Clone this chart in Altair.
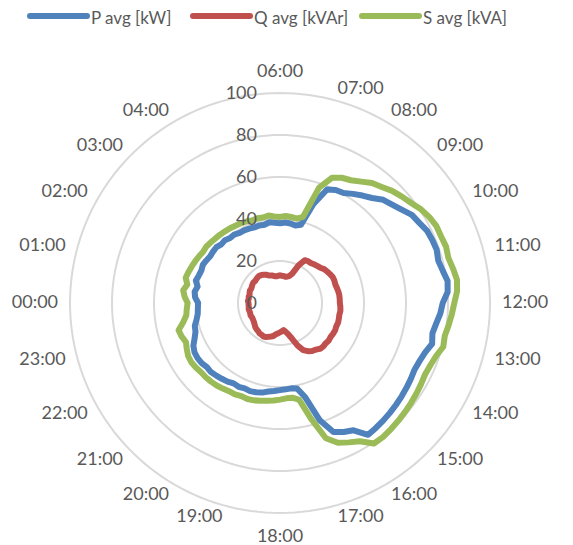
import altair as alt
import pandas as pd

# ---------------- data ----------------
hours = [f"{h:02d}:00" for h in range(24)]
hidden_hours = ["05:00"]          # label not shown in the original (overlaps "100")
series_names = ["P avg [kW]", "Q avg [kVAr]", "S avg [kVA]"]
ring_ticks = [0, 20, 40, 60, 80, 100]

# 15-minute readings starting at 00:00
p_avg = [
    39.0, 40.5, 41.0, 40.0, 41.5, 40.8, 40.5, 41.0,
    40.5, 40.0, 40.2, 40.3, 39.5, 39.8, 39.0, 39.2,
    38.5, 38.6, 38.3, 38.0, 38.2, 38.0, 38.8, 38.3,
    38.0, 38.4, 38.2, 37.6, 38.6, 50.0, 58.5, 60.0,
    60.5, 62.5, 64.5, 66.5, 69.5, 71.0, 73.0, 75.5,
    76.5, 78.0, 78.5, 78.8, 78.0, 79.0, 80.5, 80.0,
    77.5, 76.5, 75.0, 74.0, 75.0, 73.0, 72.0, 71.5,
    72.0, 72.5, 73.0, 73.5, 74.0, 74.5, 75.0, 75.5,
    70.0, 68.5, 66.5, 59.0, 46.5, 41.5, 41.0, 41.2,
    41.5, 42.0, 42.5, 43.5, 44.0, 44.3, 44.0, 44.5,
    44.2, 45.0, 45.5, 46.0, 46.5, 46.3, 47.0, 47.2,
    47.0, 46.0, 44.0, 42.5, 42.0, 40.5, 39.5, 39.2,
]
q_avg = [
    15.0, 15.3, 15.0, 15.2, 15.0, 15.3, 15.5, 15.3,
    15.5, 15.8, 16.0, 15.8, 16.0, 16.2, 16.3, 16.0,
    15.5, 15.0, 14.2, 13.8, 13.5, 13.0, 12.8, 13.0,
    13.2, 13.0, 13.0, 12.8, 13.0, 13.5, 15.0, 20.0,
    23.5, 24.0, 24.0, 24.5, 25.0, 25.5, 26.5, 27.0,
    27.5, 28.0, 28.0, 27.8, 28.0, 28.3, 28.5, 28.5,
    28.5, 28.8, 29.0, 28.8, 29.0, 29.2, 29.0, 29.3,
    29.2, 29.0, 29.3, 29.0, 29.2, 29.0, 28.0, 27.5,
    26.5, 25.0, 22.0, 18.0, 15.5, 14.0, 13.0, 13.5,
    14.0, 14.5, 15.0, 16.0, 16.5, 17.0, 17.5, 17.8,
    17.5, 17.5, 17.0, 16.8, 16.5, 16.0, 15.5, 15.2,
    15.0, 15.0, 15.2, 15.0, 15.0, 15.2, 15.0, 15.0,
]
s_avg = [
    44.0, 45.5, 46.5, 45.0, 46.5, 46.0, 45.5, 45.0,
    44.5, 44.0, 44.2, 43.8, 43.5, 43.3, 43.0, 42.8,
    42.5, 42.3, 42.0, 41.5, 41.8, 41.5, 42.0, 41.3,
    41.0, 41.5, 41.3, 41.0, 42.5, 58.0, 64.5, 66.5,
    67.5, 69.5, 72.0, 73.5, 75.5, 77.0, 78.5, 80.5,
    82.0, 83.0, 83.0, 83.5, 83.0, 84.0, 85.0, 84.5,
    83.0, 82.0, 81.0, 80.0, 80.5, 78.5, 77.5, 77.0,
    77.5, 78.0, 78.5, 79.0, 79.5, 80.0, 80.5, 80.5,
    76.0, 74.0, 72.0, 68.0, 57.0, 47.0, 45.5, 45.5,
    46.0, 46.5, 47.0, 47.5, 48.0, 48.3, 48.0, 48.5,
    48.5, 49.0, 49.5, 49.8, 50.0, 50.0, 50.5, 50.8,
    50.5, 49.5, 48.5, 49.5, 50.0, 47.0, 45.0, 44.5,
]

# ---------------- styling ----------------
colors = ["#4F81BD", "#C0504D", "#9BBB59"]
FONT = "Lato"
TXT = "#595959"
GRID = "#D9D9D9"
R_PX = 210          # radius of the 100 ring in pixels
LABEL_R = 105.7     # category label anchor radius (data units)

rows = []
for name, vals in zip(series_names, [p_avg, q_avg, s_avg]):
    n = len(vals)
    for i, v in enumerate(vals):
        rows.append({"series": name, "t": i * 24.0 / n, "v": v})
    rows.append({"series": name, "t": 24.0, "v": vals[0]})  # close the loop
df = pd.DataFrame(rows)

xs = alt.Scale(domain=[-100, 100], nice=False, zero=False)
ys = alt.Scale(domain=[-100, 100], nice=False, zero=False)


def series_layer(name, color):
    return (
        alt.Chart(df)
        .transform_filter(alt.datum.series == name)
        .transform_calculate(ang="(datum.t - 6) / 24 * 2 * PI")
        .transform_calculate(px="datum.v * sin(datum.ang)", py="datum.v * cos(datum.ang)")
        .mark_line(color=color, strokeWidth=6, strokeCap="round", strokeJoin="round")
        .encode(
            x=alt.X("px:Q", scale=xs, axis=None),
            y=alt.Y("py:Q", scale=ys, axis=None),
            order=alt.Order("t:Q"),
        )
    )


def ring_layer(tick):
    return (
        alt.Chart(alt.sequence(0, 362, 2, as_="deg"))
        .transform_calculate(
            px=f"{tick} * sin(datum.deg * PI / 180)",
            py=f"{tick} * cos(datum.deg * PI / 180)",
        )
        .mark_line(color=GRID, strokeWidth=2)
        .encode(
            x=alt.X("px:Q", scale=xs, axis=None),
            y=alt.Y("py:Q", scale=ys, axis=None),
            order=alt.Order("deg:Q"),
        )
    )


rings = [ring_layer(t) for t in ring_ticks if t > 0]

ring_labels = (
    alt.Chart(alt.Data(values=[{"tick": t} for t in ring_ticks]))
    .transform_calculate(zero="0")
    .mark_text(align="right", baseline="middle", dx=-23, dy=1, font=FONT, fontSize=18, color=TXT)
    .encode(
        x=alt.X("zero:Q", scale=xs, axis=None),
        y=alt.Y("tick:Q", scale=ys, axis=None),
        text=alt.Text("tick:Q"),
    )
)

hdf = pd.DataFrame({"label": hours, "h": list(range(24))})
hdf = hdf[~hdf["label"].isin(hidden_hours)]


def hour_layer(cond, align, baseline, dy=0):
    return (
        alt.Chart(hdf)
        .transform_calculate(ang="(datum.h - 6) / 24 * 2 * PI")
        .transform_calculate(
            lx=f"{LABEL_R} * sin(datum.ang)",
            ly=f"{LABEL_R} * cos(datum.ang)",
            s="sin(datum.ang)",
        )
        .transform_filter(cond)
        .mark_text(align=align, baseline=baseline, dy=dy, font=FONT, fontSize=18, color=TXT)
        .encode(
            x=alt.X("lx:Q", scale=xs, axis=None),
            y=alt.Y("ly:Q", scale=ys, axis=None),
            text="label:N",
        )
    )


hour_labels = [
    hour_layer("datum.s > 0.01", "left", "middle"),
    hour_layer("datum.s < -0.01", "right", "middle"),
    hour_layer("datum.h == 6", "center", "bottom"),
    hour_layer("datum.h == 18", "center", "top", dy=3),
]

# legend drawn manually at the top
leg_x = [-40, 123, 292]
leg_line_y = -77
leg_text_y = -69
legend_layers = []
for i, name in enumerate(series_names):
    ld = alt.Data(values=[{"name": name}])
    legend_layers.append(
        alt.Chart(ld)
        .mark_rule(color=colors[i], strokeWidth=6, strokeCap="round")
        .encode(x=alt.value(leg_x[i]), x2=alt.value(leg_x[i] + 57), y=alt.value(leg_line_y))
    )
    legend_layers.append(
        alt.Chart(ld)
        .mark_text(align="left", baseline="alphabetic", font=FONT, fontSize=17, color=TXT)
        .encode(x=alt.value(leg_x[i] + 61), y=alt.value(leg_text_y), text="name:N")
    )

chart = alt.layer(
    *rings,
    *[series_layer(n, c) for n, c in zip(series_names, colors)],
    ring_labels,
    *hour_labels,
    *legend_layers,
).properties(
    width=2 * R_PX,
    height=2 * R_PX,
    background="white",
    autosize=alt.AutoSizeParams(type="none"),
    padding={"left": 62, "top": 85, "right": 75, "bottom": 35},
).configure_view(strokeWidth=0)

chart.save("out.html", embed_options={"renderer": "svg", "actions": False})
